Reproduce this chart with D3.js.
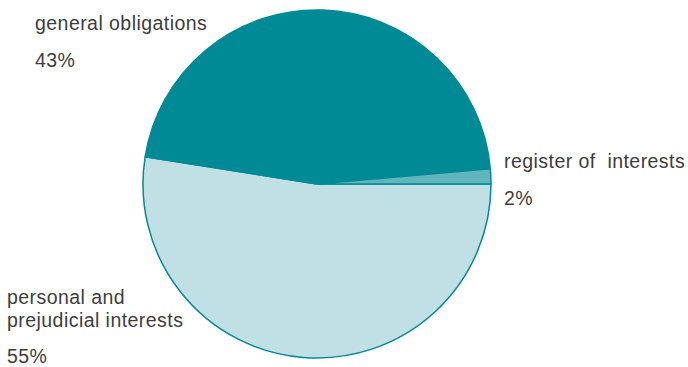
<!DOCTYPE html>
<html>
<head>
<meta charset="utf-8">
<script src="https://cdn.jsdelivr.net/npm/d3@7"></script>
<style>
  body { margin: 0; background: #fff; }
  text { font-family: "Liberation Sans", Arial, sans-serif; fill: #3d3d3d; letter-spacing: 0.45px; }
</style>
</head>
<body>
<script>
// data (slice sizes, labels as printed)
const categories = ["personal and prejudicial interests", "general obligations", "register of interests"];
const values = [52.5, 46.1, 1.4];
const percentLabels = ["55%", "43%", "2%"];
const colors = ["#c1e0e5", "#008a96", "#62b5bd"];

const width = 688;
const height = 367;
const cx = 317;
const cy = 184;
const radius = 174;

const svg = d3.select("body").append("svg")
  .attr("width", width)
  .attr("height", height);

const pie = d3.pie()
  .sort(null)
  .value((d) => d)
  .startAngle(Math.PI / 2)
  .endAngle(Math.PI / 2 + 2 * Math.PI);

const arc = d3.arc().innerRadius(0).outerRadius(radius);

svg.append("g")
  .attr("transform", `translate(${cx},${cy})`)
  .selectAll("path")
  .data(pie(values))
  .enter()
  .append("path")
  .attr("d", arc)
  .attr("fill", (d, i) => colors[i])
  .attr("stroke", "#008a96")
  .attr("stroke-width", 1.5)
  .attr("stroke-linejoin", "round");

// labels
const labels = [
  { lines: ["personal and", "prejudicial interests"], x: 7, y: 304, pct: 363 },
  { lines: ["general obligations"], x: 35, y: 30, pct: 67 },
  { lines: ["register of\u00a0 interests"], x: 504, y: 168, pct: 205 }
];

labels.forEach((l, i) => {
  const g = svg.append("g").style("font-size", "19.5px");
  l.lines.forEach((line, j) => {
    g.append("text").attr("x", l.x).attr("y", l.y + j * 23).text(line);
  });
  g.append("text").attr("x", l.x).attr("y", l.pct).text(percentLabels[i]);
});
</script>
</body>
</html>
